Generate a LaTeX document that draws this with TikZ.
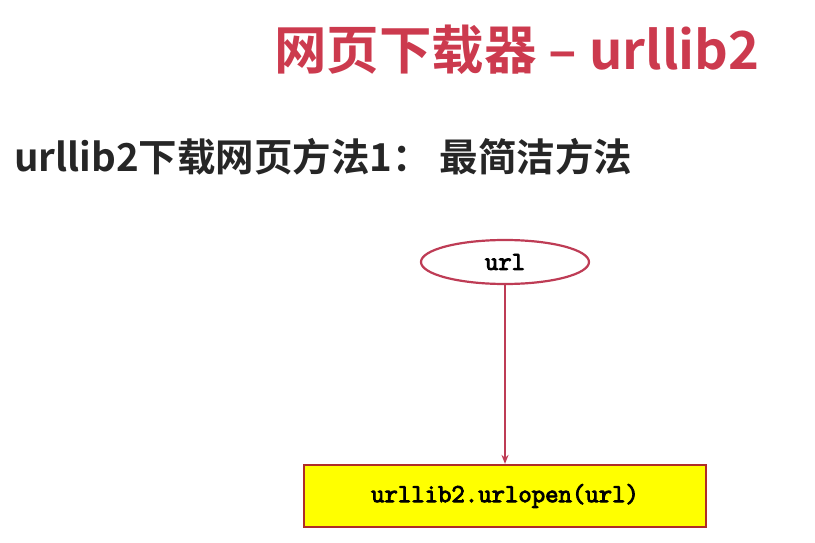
\documentclass[tikz,border=0pt]{standalone}
\usepackage{fontspec}
\setmainfont{Liberation Sans}
\newfontfamily\cjkbold[BoldFont={Noto Sans CJK SC Bold}]{Noto Sans CJK SC}
\newfontfamily\codefont[FakeBold=3.5]{Latin Modern Mono}
\usetikzlibrary{shapes.geometric,arrows.meta}
\definecolor{titlered}{RGB}{204,58,78}
\definecolor{linered}{RGB}{190,60,85}
\definecolor{boxborder}{RGB}{175,45,40}
\definecolor{boxfill}{RGB}{255,255,0}
\tikzset{
  titletext/.style={font=\cjkbold\bfseries\fontsize{52.5}{58}\selectfont, text=titlered, anchor=center, inner sep=0pt},
  subtext/.style={font=\cjkbold\bfseries\fontsize{38.5}{44}\selectfont, text=black!85, anchor=west, inner sep=0pt},
  ellnode/.style={ellipse, draw=linered, line width=2.2pt, fill=white, minimum width=168pt, minimum height=44pt, inner sep=0pt, font=\codefont\fontsize{26}{28}\selectfont},
  codebox/.style={rectangle, draw=boxborder, line width=2.2pt, fill=boxfill, minimum width=402pt, minimum height=62pt, inner sep=0pt, font=\codefont\fontsize{26}{28}\selectfont},
  conn/.style={draw=linered, line width=1.6pt, -{Stealth[length=9pt,width=7pt]}}
}
\begin{document}
\begin{tikzpicture}[x=1pt,y=-1pt]
\useasboundingbox (0,0) rectangle (815,543);
\node[titletext] (title) at (517,50) {网页下载器 – urllib2};
\node[subtext] (sub) at (14,157) {urllib2下载网页方法1： 最简洁方法};
\node[ellnode] (url) at (505,262) {url};
\node[codebox] (open) at (505,496) {urllib2.urlopen(url)};
\draw[conn] (url) -- (open);
\end{tikzpicture}
\end{document}
